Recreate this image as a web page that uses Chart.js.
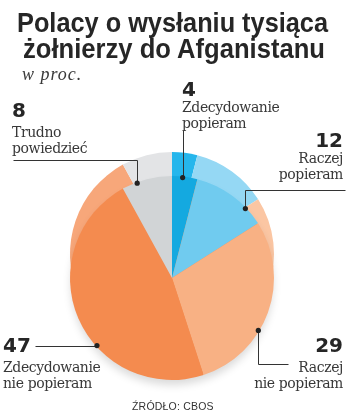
<!DOCTYPE html>
<html>
<head>
<meta charset="utf-8">
<script src="https://cdn.jsdelivr.net/npm/chart.js@4.4.1/dist/chart.umd.min.js"></script>
<style>
  html, body { margin: 0; padding: 0; background: #fff; }
  #wrap { position: relative; width: 350px; height: 412px; overflow: hidden; }
  #wrap canvas { position: absolute; left: 0; top: 0; }
  .t { position: absolute; white-space: nowrap; line-height: 1; color: #1f1f1f; }
  .title { font-family: "Liberation Sans", Arial, sans-serif; font-weight: bold; font-size: 28px; color: #262626; transform-origin: 0 0; }
  .sub { font-family: "Liberation Serif", serif; font-style: italic; font-size: 18px; letter-spacing: 1px; color: #3a3a3a; }
  .num { font-family: "DejaVu Sans", sans-serif; font-weight: bold; font-size: 20px; color: #262626; }
  .lab { font-family: "DejaVu Serif", serif; font-size: 14px; letter-spacing: -0.4px; color: #383838; }
  .src { font-family: "Liberation Sans", sans-serif; font-size: 10.5px; color: #333; letter-spacing: 0.2px; }
</style>
</head>
<body>
<div id="wrap">
  <canvas id="back" width="350" height="412"></canvas>
  <canvas id="front" width="350" height="412"></canvas>
</div>
<script>
// data
const categories = ['Zdecydowanie popieram', 'Raczej popieram', 'Raczej nie popieram', 'Zdecydowanie nie popieram', 'Trudno powiedzieć'];
const values = [4, 12, 29, 47, 8];
const titleLines = ['Polacy o wysłaniu tysiąca', 'żołnierzy do Afganistanu'];
const subtitle = 'w proc.';
const source = 'ŹRÓDŁO: CBOS';

// colours: front face and the lighter rim behind it
const frontColors = ['#14a9e0', '#70cbef', '#f8b184', '#f48b4f', '#d1d4d6'];
const rimColors = ['#25b6ec', '#95d8f4', '#fbc6a3', '#f7a77a', '#e3e4e6'];

// where the leader dot sits on each slice and how its line runs to the label
const leaders = [
  { frac: 0.42, path: [['v', 130]] },
  { frac: 0.745, path: [['v', 190], ['h', 345]] },
  { frac: 0.61, path: [['v', 364], ['h', 288]] },
  { frac: 0.39, path: [['h', 35]] },
  { frac: 0.30, path: [['v', 160], ['h', 13]] }
];
const labelLayout = [
  { x: 182, align: 'left', numBase: 96, textBase: 112 },
  { x: 343, align: 'right', numBase: 147, textBase: 163 },
  { x: 343, align: 'right', numBase: 352, textBase: 372 },
  { x: 3, align: 'left', numBase: 352, textBase: 372 },
  { x: 12, align: 'left', numBase: 117, textBase: 137 }
];

const wrap = document.getElementById('wrap');

function addText(cls, text, x, baseline, size, align) {
  const d = document.createElement('div');
  d.className = 't ' + cls;
  d.textContent = text;
  d.style.top = (baseline - 0.846 * size) + 'px';
  if (align === 'right') {
    d.style.right = (350 - x) + 'px';
    d.style.textAlign = 'right';
  } else {
    d.style.left = x + 'px';
  }
  wrap.appendChild(d);
  return d;
}

// title, squeezed to the width of the original lines
const titleSpans = [[17, 328, 33], [23, 325, 59]];
titleLines.forEach(function (line, i) {
  const s = titleSpans[i];
  const d = addText('title', line, s[0], s[2], 28, 'left');
  const w = d.getBoundingClientRect().width;
  d.style.transform = 'scaleX(' + ((s[1] - s[0]) / w) + ')';
});
addText('sub', subtitle, 22, 80, 18, 'left');
addText('src', source, 132, 410, 10.5, 'left');

values.forEach(function (v, i) {
  const L = labelLayout[i];
  addText('num', String(v), L.x, L.numBase, 20, L.align);
  const cut = categories[i].indexOf(' ');
  addText('lab', categories[i].slice(0, cut), L.x, L.textBase, 14, L.align);
  addText('lab', categories[i].slice(cut + 1), L.x, L.textBase + 16, 14, L.align);
});

const shadowPlugin = {
  id: 'shadow',
  beforeDatasetsDraw(chart) {
    const arc = chart.getDatasetMeta(0).data[0];
    const ctx = chart.ctx;
    ctx.save();
    ctx.shadowColor = 'rgba(0,0,0,0.15)';
    ctx.shadowBlur = 9;
    ctx.shadowOffsetY = 6;
    ctx.fillStyle = frontColors[3];
    ctx.beginPath();
    ctx.arc(arc.x, arc.y, arc.outerRadius - 1, 0, Math.PI * 2);
    ctx.fill();
    ctx.restore();
  }
};

const leaderPlugin = {
  id: 'leaders',
  afterDatasetsDraw(chart) {
    const ctx = chart.ctx;
    const arcs = chart.getDatasetMeta(0).data;
    ctx.save();
    ctx.strokeStyle = '#333';
    ctx.fillStyle = '#222';
    ctx.lineWidth = 1;
    arcs.forEach(function (arc, i) {
      const a = arc.startAngle + leaders[i].frac * (arc.endAngle - arc.startAngle);
      const r = arc.outerRadius - 1;
      const dx = arc.x + Math.cos(a) * r;
      const dy = arc.y + Math.sin(a) * r;
      let x = Math.round(dx) + 0.5;
      let y = Math.round(dy) + 0.5;
      ctx.beginPath();
      ctx.moveTo(x, y);
      leaders[i].path.forEach(function (p) {
        if (p[0] === 'v') y = p[1] + 0.5; else x = p[1] + 0.5;
        ctx.lineTo(x, y);
      });
      ctx.stroke();
      ctx.beginPath();
      ctx.arc(dx, dy, 2.6, 0, Math.PI * 2);
      ctx.fill();
    });
    ctx.restore();
  }
};

function pieConfig(colors, padTop, padBottom, plugins) {
  return {
    type: 'pie',
    data: {
      labels: categories,
      datasets: [{
        data: values,
        backgroundColor: colors,
        borderWidth: 0,
        hoverOffset: 0,
        radius: 102
      }]
    },
    options: {
      responsive: false,
      animation: false,
      events: [],
      layout: { padding: { left: 70, right: 76, top: padTop, bottom: padBottom } },
      plugins: { legend: { display: false }, tooltip: { enabled: false } }
    },
    plugins: plugins
  };
}

new Chart(document.getElementById('back').getContext('2d'), pieConfig(rimColors, 152, 56, []));
new Chart(document.getElementById('front').getContext('2d'), pieConfig(frontColors, 176, 32, [shadowPlugin, leaderPlugin]));
</script>
</body>
</html>
